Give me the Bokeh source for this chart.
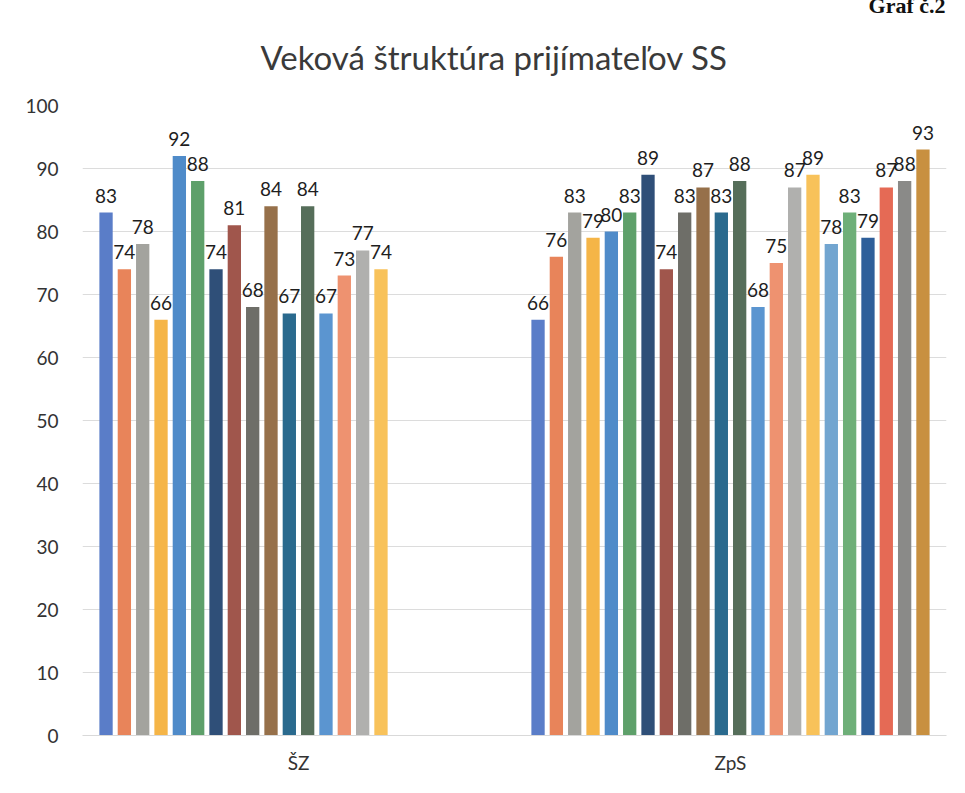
from bokeh.plotting import figure
from bokeh.models import FactorRange, Range1d, ColumnDataSource, Title, FixedTicker
from bokeh.transform import dodge
from bokeh.core.properties import value
from bokeh.embed import file_html
from bokeh.resources import INLINE

categories = ["ŠZ", "ZpS"]
sz_values = [83, 74, 78, 66, 92, 88, 74, 81, 68, 84, 67, 84, 67, 73, 77, 74,
             None, None, None, None, None, None]
zps_values = [66, 76, 83, 79, 80, 83, 89, 74, 83, 87, 83, 88, 68, 75, 87, 89,
              78, 83, 79, 87, 88, 93]
series_colors = ["#5A7DC8", "#E8845A", "#A3A39E", "#F5B547", "#4F8BC9", "#5EA06A",
                 "#2F4F78", "#A0564C", "#6E6E68", "#96704A", "#2A6A8E", "#566E5A",
                 "#5B95D0", "#EE9270", "#B0B0AE", "#F8C25A", "#72A5D0", "#6EAF78",
                 "#2E5F9A", "#E56A55", "#8A8A88", "#C89040"]
y_ticks = [0, 10, 20, 30, 40, 50, 60, 70, 80, 90, 100]
title_text = "Veková štruktúra prijímateľov SS"
corner_text = "Graf č.2"

FONT = "Lato"
n = len(zps_values)
slot = 0.04243
bar_w = 0.0308

p = figure(x_range=FactorRange(*categories, range_padding=0),
           y_range=Range1d(0, 100),
           width=957, height=785, output_backend="svg", toolbar_location=None,
           min_border_left=82, min_border_right=11, min_border_top=105,
           min_border_bottom=50, background_fill_color="white",
           border_fill_color="white")

for i in range(n):
    xs, tops = [], []
    for cat, vals in zip(categories, [sz_values, zps_values]):
        if vals[i] is not None:
            xs.append(cat)
            tops.append(vals[i])
    src = ColumnDataSource(dict(x=xs, top=tops, label=[str(t) for t in tops]))
    off = (i - (n - 1) / 2) * slot
    p.vbar(x=dodge("x", off, range=p.x_range), top="top", width=bar_w,
           source=src, fill_color=series_colors[i], line_color=None)
    p.text(x=dodge("x", off, range=p.x_range), y="top", text="label", source=src,
           text_align="center", text_baseline="alphabetic", y_offset=-17,
           text_font=value(FONT), text_font_size="19px", text_color="#1e1e1e")

# outermost title: the small corner caption
p.title.text = corner_text
p.title.text_font = "Liberation Serif"
p.title.text_font_style = "bold"
p.title.text_font_size = "22px"
p.title.text_color = "#111111"
p.title.align = "right"
p.title.offset = 1
p.title.standoff = -22

# inner title: the chart title
p.add_layout(Title(text=title_text, align="left", offset=178, text_font=FONT,
                   text_font_style="normal", text_font_size="33px",
                   text_color="#3a3a3a", standoff=57), "above")

p.xaxis.axis_line_color = "#d9d9d9"
p.xaxis.major_tick_line_color = None
p.xaxis.minor_tick_line_color = None
p.xaxis.major_label_standoff = 9
p.xaxis.major_label_text_font = FONT
p.xaxis.major_label_text_font_size = "19px"
p.xaxis.major_label_text_color = "#333333"

p.yaxis.ticker = FixedTicker(ticks=y_ticks)
p.yaxis.axis_line_color = None
p.yaxis.major_tick_line_color = None
p.yaxis.minor_tick_line_color = None
p.yaxis.major_label_standoff = 18
p.yaxis.major_label_text_font = FONT
p.yaxis.major_label_text_font_size = "19px"
p.yaxis.major_label_text_color = "#333333"

p.xgrid.grid_line_color = None
p.ygrid.grid_line_color = "#dcdcdc"
p.ygrid.ticker = FixedTicker(ticks=y_ticks)
p.outline_line_color = None

open("out.html", "w").write(file_html(p, INLINE))
